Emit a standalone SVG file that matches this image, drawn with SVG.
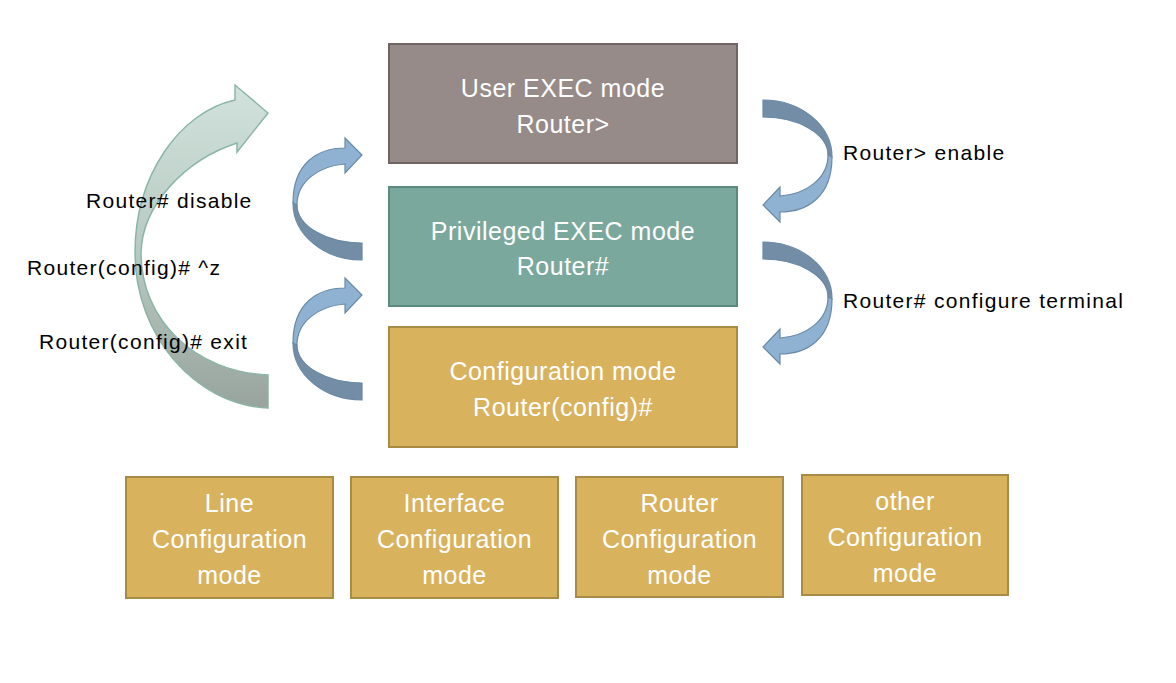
<svg xmlns="http://www.w3.org/2000/svg" xmlns:xlink="http://www.w3.org/1999/xlink" width="1176" height="683" viewBox="0 0 1176 683">
<style>
.box text{font-family:"Liberation Sans",Arial,sans-serif;font-size:25px;fill:#ffffff;text-anchor:middle;letter-spacing:0.5px}
.lbl{font-family:"Liberation Sans",Arial,sans-serif;font-size:21px;fill:#000000;letter-spacing:1.3px}
.user{fill:#968b89;stroke:#6f6664;stroke-width:2}
.priv{fill:#7ba89c;stroke:#5c8a7e;stroke-width:2}
.conf{fill:#d9b25e;stroke:#a88b45;stroke-width:2}
.light{fill:#8fb2d3;stroke:#6a8aa6;stroke-width:1.2}
.dark{fill:#738da6;stroke:#6a8aa6;stroke-width:1.2}
</style>
<defs>
<linearGradient id="bigGrad" x1="0" y1="85" x2="0" y2="410" gradientUnits="userSpaceOnUse">
<stop offset="0" stop-color="#d0e2db"/>
<stop offset="0.5" stop-color="#b8cbc3"/>
<stop offset="1" stop-color="#98a39d"/>
</linearGradient>
<g id="curl">
<path class="dark" d="M 293,203 A 69 57 0 0 0 362,260 L 362,243 A 65 38 0 0 1 297,205 Z"/>
<path class="light" d="M 293,203 C 293,163 318,148 345,148 L 345,138 L 362,155 L 345,173 L 345,164 C 318,166 297,182 297,205 Z"/>
</g>
</defs>
<rect width="1176" height="683" fill="#ffffff"/>
<g id="connectors">
<path id="big-return" d="M 268,408 C 195,405 135,335 135,253 C 135,175 180,112 235,100 L 235,85 L 268,113 L 237,152 L 237,143 C 185,160 142,205 141,253 C 141,320 195,372 268,375 Z" fill="url(#bigGrad)" stroke="#8cb5a7" stroke-width="1.5"/>
<use xlink:href="#curl" href="#curl"/>
<use xlink:href="#curl" href="#curl" transform="translate(0,140)"/>
<use xlink:href="#curl" href="#curl" transform="matrix(-1,0,0,-1,1125,360)"/>
<use xlink:href="#curl" href="#curl" transform="matrix(-1,0,0,-1,1125,502)"/>
<text class="lbl" x="86" y="208">Router# disable</text>
<text class="lbl" x="27" y="275">Router(config)# ^z</text>
<text class="lbl" x="39" y="349">Router(config)# exit</text>
<text class="lbl" x="843" y="160">Router&gt; enable</text>
<text class="lbl" x="843" y="308">Router# configure terminal</text>
</g>
<g id="user-exec" class="box">
<rect class="user" x="389" y="44" width="348" height="119"/>
<text x="563" y="97">User EXEC mode</text>
<text x="563" y="133">Router&gt;</text>
</g>
<g id="privileged-exec" class="box">
<rect class="priv" x="389" y="187" width="348" height="119"/>
<text x="563" y="240">Privileged EXEC mode</text>
<text x="563" y="275">Router#</text>
</g>
<g id="configuration" class="box">
<rect class="conf" x="389" y="327" width="348" height="120"/>
<text x="563" y="380">Configuration mode</text>
<text x="563" y="416">Router(config)#</text>
</g>
<g id="line-config" class="box">
<rect class="conf" x="126" y="477" width="207" height="121"/>
<text x="229.5" y="512">Line</text>
<text x="229.5" y="548">Configuration</text>
<text x="229.5" y="584">mode</text>
</g>
<g id="interface-config" class="box">
<rect class="conf" x="351" y="477" width="207" height="121"/>
<text x="454.5" y="512">Interface</text>
<text x="454.5" y="548">Configuration</text>
<text x="454.5" y="584">mode</text>
</g>
<g id="router-config" class="box">
<rect class="conf" x="576" y="477" width="207" height="120"/>
<text x="679.5" y="512">Router</text>
<text x="679.5" y="548">Configuration</text>
<text x="679.5" y="584">mode</text>
</g>
<g id="other-config" class="box">
<rect class="conf" x="802" y="475" width="206" height="120"/>
<text x="905" y="510">other</text>
<text x="905" y="546">Configuration</text>
<text x="905" y="582">mode</text>
</g>
</svg>
